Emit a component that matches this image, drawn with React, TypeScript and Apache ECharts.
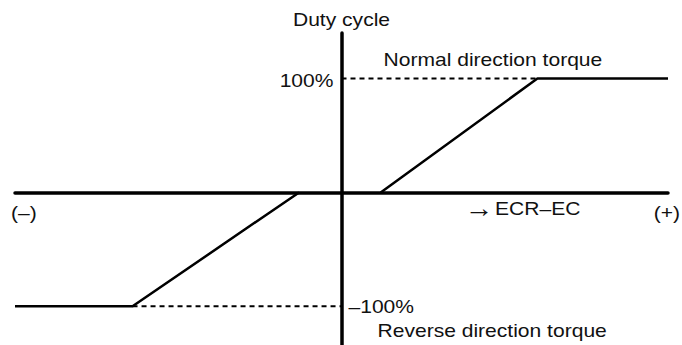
import React, { useEffect, useRef } from "react";
import * as echarts from "echarts";

// Axis ranges (ECR–EC in arbitrary units, duty cycle in %)
const xRange = [-100, 100];
const yRange = [-134, 140];

// Characteristic curve pieces
const reverseCurve = [
  [-100, -100],
  [-64, -100],
  [-13, 0],
];
const normalCurve = [
  [12, 0],
  [60, 100],
  [100, 100],
];

// Dashed guides to the duty-cycle axis
const normalGuide = [
  [0, 100],
  [60, 100],
];
const reverseGuide = [
  [-64, -100],
  [0, -100],
];

// Tick labels on the duty-cycle axis
const tickValues = [100, -100];
const tickLabels = ["100%", "–100%"];

// Annotation texts
const yAxisTitle = "Duty cycle";
const normalText = "Normal direction torque";
const reverseText = "Reverse direction torque";
const xNegText = "(–)";
const xPosText = "(+)";
const xArrow = "→";
const xAxisTitle = "ECR–EC";

const FONT = "'Liberation Sans', Arial, Helvetica, sans-serif";
const TEXT_COLOR = "#111";
const SX = 1.17;

export default function App() {
  const ref = useRef<HTMLDivElement>(null);

  useEffect(() => {
    document.body.style.margin = "0";
    const chart = echarts.init(ref.current!, null, { renderer: "svg" });
    const axisCommon = {
      type: "value",
      axisLine: { show: true, onZero: true, lineStyle: { color: "#000", width: 3.5 } },
      axisTick: { show: false },
      axisLabel: { show: false },
      splitLine: { show: false },
    };
    const solid = { color: "#000", width: 2.5 };
    const dashed = { color: "#000", width: 2, type: [5, 4] };
    chart.setOption({
      animation: false,
      backgroundColor: "#fff",
      grid: { left: 15, right: 14, top: 33, bottom: 0, containLabel: false },
      xAxis: { ...axisCommon, min: xRange[0], max: xRange[1] },
      yAxis: { ...axisCommon, min: yRange[0], max: yRange[1] },
      series: [
        { type: "line", data: reverseCurve, symbol: "none", lineStyle: solid, z: 3 },
        { type: "line", data: normalCurve, symbol: "none", lineStyle: solid, z: 3 },
        { type: "line", data: normalGuide, symbol: "none", lineStyle: dashed, z: 2 },
        { type: "line", data: reverseGuide, symbol: "none", lineStyle: dashed, z: 2 },
      ],
    });

    const origin = chart.convertToPixel({ gridIndex: 0 }, [0, 0]) as number[];
    const topTick = chart.convertToPixel({ gridIndex: 0 }, [0, tickValues[0]]) as number[];
    const botTick = chart.convertToPixel({ gridIndex: 0 }, [0, tickValues[1]]) as number[];
    const leftEnd = chart.convertToPixel({ gridIndex: 0 }, [xRange[0], 0]) as number[];
    const rightEnd = chart.convertToPixel({ gridIndex: 0 }, [xRange[1], 0]) as number[];

    const txt = (text: string, x: number, y: number, align: string, font = `18px ${FONT}`, sx = SX) => ({
      type: "text",
      x,
      y,
      scaleX: sx,
      style: {
        text,
        fill: TEXT_COLOR,
        font,
        align,
        verticalAlign: "middle",
      },
    });

    chart.setOption({
      graphic: [
        txt(yAxisTitle, origin[0], 19.5, "center"),
        txt(normalText, origin[0] + 42, topTick[1] - 18.5, "left"),
        txt(tickLabels[0], topTick[0] - 8, topTick[1] + 2, "right"),
        txt(tickLabels[1], botTick[0] + 7, botTick[1] + 0.5, "left"),
        txt(reverseText, origin[0] + 36, botTick[1] + 24, "left"),
        txt(xNegText, leftEnd[0] - 4, origin[1] + 20, "left"),
        txt(xArrow, 465, origin[1] + 15.5, "left", `26px ${FONT}`, 1.1),
        txt(xAxisTitle, 495, origin[1] + 16.5, "left"),
        txt(xPosText, rightEnd[0] + 12, origin[1] + 20, "right"),
      ],
    });

    return () => chart.dispose();
  }, []);

  return <div ref={ref} style={{ width: 682, height: 345 }} />;
}
